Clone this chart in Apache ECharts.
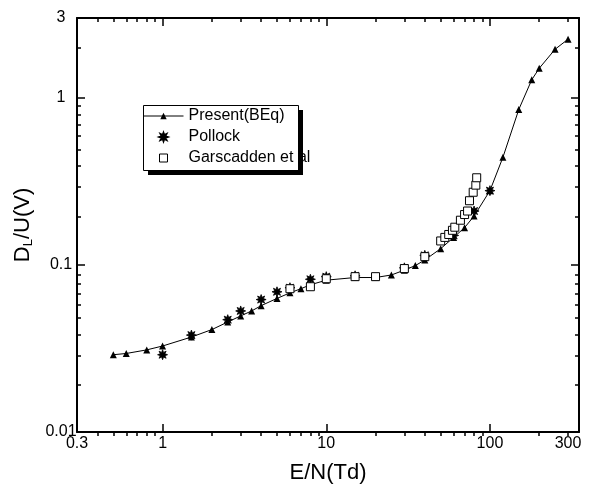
<!DOCTYPE html>
<html>
<head>
<meta charset="utf-8">
<script src="https://cdn.jsdelivr.net/npm/echarts@6/dist/echarts.min.js"></script>
<style>
  html, body { margin: 0; padding: 0; background: #fff; }
  #chart { width: 595px; height: 489px; }
</style>
</head>
<body>
<div id="chart"></div>
<script>
  // E/N (Td) and D_L/U (V)
  const presentEN = [0.5, 0.6, 0.8, 1, 1.5, 2, 2.5, 3, 3.5, 4, 5, 6, 7, 8, 10, 15, 20, 25, 30, 35, 40, 50, 60, 70, 80, 100, 120, 150, 180, 200, 250, 300];
  const presentDL = [0.029, 0.0295, 0.031, 0.0327, 0.037, 0.041, 0.0455, 0.0495, 0.053, 0.057, 0.063, 0.068, 0.072, 0.076, 0.081, 0.084, 0.084, 0.087, 0.093, 0.099, 0.107, 0.125, 0.146, 0.167, 0.196, 0.278, 0.44, 0.85, 1.28, 1.5, 1.95, 2.24];

  const pollockEN = [1, 1.5, 2.5, 3, 4, 5, 6, 8, 10, 15, 30, 40, 60, 80, 100];
  const pollockDL = [0.029, 0.038, 0.047, 0.053, 0.062, 0.069, 0.073, 0.082, 0.085, 0.086, 0.096, 0.114, 0.15, 0.21, 0.278];

  const garsEN = [6, 8, 10, 15, 20, 30, 40, 50, 53, 56, 59, 61, 66, 70, 73, 75, 79, 82, 83];
  const garsDL = [0.072, 0.074, 0.0826, 0.085, 0.085, 0.095, 0.112, 0.139, 0.146, 0.152, 0.161, 0.168, 0.185, 0.2, 0.21, 0.242, 0.272, 0.3, 0.332];

  // ticks and labels
  const xLabels = [0.3, 1, 10, 100, 300];
  const xMajor = [1, 10, 100];
  const xMinor = [0.4, 0.5, 0.6, 0.7, 0.8, 0.9, 2, 3, 4, 5, 6, 7, 8, 9, 20, 30, 40, 50, 60, 70, 80, 90, 200, 300];
  const yLabels = [0.01, 0.1, 1, 3];
  const yMajor = [0.1, 1];
  const yMinor = [0.02, 0.03, 0.04, 0.05, 0.06, 0.07, 0.08, 0.09, 0.2, 0.3, 0.4, 0.5, 0.6, 0.7, 0.8, 0.9, 2];

  const X_MIN = 0.3, X_MAX = 350, Y_MIN = 0.01, Y_MAX = 3;
  const FONT = 'Liberation Sans, Arial, sans-serif';

  const zip = (a, b) => a.map((v, i) => [v, b[i]]);
  const fmt = v => String(+(+v).toPrecision(2));

  const myChart = echarts.init(document.getElementById('chart'));

  // one axis side; labels only on the main (grid 0) bottom/left axes
  function makeAxis(kind, grid, pos, ticks, len, withLine, labels) {
    const isX = kind === 'x';
    return {
      type: 'log',
      logBase: 10,
      gridIndex: grid,
      position: pos,
      min: isX ? X_MIN : Y_MIN,
      max: isX ? X_MAX : Y_MAX,
      axisLine: { show: withLine, onZero: false, lineStyle: { color: '#000', width: 2 } },
      axisTick: { show: true, inside: true, length: len, customValues: ticks, lineStyle: { color: '#000', width: 1.5 } },
      minorTick: { show: false },
      splitLine: { show: false },
      axisLabel: labels ? {
        show: true,
        customValues: labels,
        formatter: fmt,
        color: '#000',
        fontSize: 16,
        fontFamily: FONT,
        margin: isX ? 4 : 16,
        align: 'center'
      } : { show: false }
    };
  }

  const xAxes = [
    makeAxis('x', 0, 'bottom', xMajor, 8, true, xLabels),
    makeAxis('x', 0, 'top', xMajor, 8, true, null),
    makeAxis('x', 1, 'bottom', xMinor, 4, false, null),
    makeAxis('x', 1, 'top', xMinor, 4, false, null)
  ];
  Object.assign(xAxes[0], {
    name: 'E/N(Td)',
    nameLocation: 'middle',
    nameGap: 30,
    nameTextStyle: { color: '#000', fontSize: 22, fontFamily: FONT }
  });

  const yAxes = [
    makeAxis('y', 0, 'left', yMajor, 8, true, yLabels),
    makeAxis('y', 0, 'right', yMajor, 8, true, null),
    makeAxis('y', 1, 'left', yMinor, 4, false, null),
    makeAxis('y', 1, 'right', yMinor, 4, false, null)
  ];
  Object.assign(yAxes[0], {
    name: '{d|D}{s|L}{d|/U(V)}',
    nameLocation: 'middle',
    nameGap: 42,
    nameTextStyle: {
      color: '#000',
      fontFamily: FONT,
      rich: {
        d: { fontSize: 22, fontFamily: FONT, color: '#000' },
        s: { fontSize: 13, fontFamily: FONT, color: '#000', verticalAlign: 'bottom', padding: [10, 0, 0, 0] }
      }
    }
  });

  // bold eight-armed asterisk
  const starPath = 'path://M10 0L11.9 5.4L17.07 2.93L14.6 8.1L20 10L14.6 11.9L17.07 17.07L11.9 14.6L10 20L8.1 14.6L2.93 17.07L5.4 11.9L0 10L5.4 8.1L2.93 2.93L8.1 5.4Z';
  const squarePath = 'path://M0 0H10V10H0Z';

  const gridRect = { left: 77, right: 16, top: 18, bottom: 53 };

  myChart.setOption({
    animation: false,
    backgroundColor: '#fff',
    textStyle: { fontFamily: FONT },
    grid: [Object.assign({}, gridRect), Object.assign({}, gridRect)],
    xAxis: xAxes,
    yAxis: yAxes,
    legend: {
      orient: 'vertical',
      left: 143,
      top: 108,
      padding: 0,
      itemGap: 5,
      itemWidth: 40,
      itemHeight: 8,
      symbolKeepAspect: true,
      z: 5,
      lineStyle: { width: 1 },
      textStyle: { color: '#000', fontSize: 16, fontFamily: FONT },
      data: [
        { name: 'Present(BEq)' },
        { name: 'Pollock' },
        { name: 'Garscadden et al', icon: squarePath, itemStyle: { color: '#fff', borderColor: '#000', borderWidth: 1 } }
      ]
    },
    graphic: [
      // legend frame
      { type: 'rect', left: 143, top: 105, z: 1, shape: { width: 155, height: 65 },
        style: { fill: '#fff', stroke: '#000', lineWidth: 1 } },
      // hard drop shadow
      { type: 'rect', left: 298, top: 110, z: 10, shape: { width: 5, height: 65 }, style: { fill: '#000' } },
      { type: 'rect', left: 148, top: 170, z: 10, shape: { width: 155, height: 5 }, style: { fill: '#000' } }
    ],
    series: [
      {
        name: 'Present(BEq)',
        type: 'line',
        xAxisIndex: 0,
        yAxisIndex: 0,
        symbol: 'triangle',
        symbolSize: 7,
        itemStyle: { color: '#000', opacity: 1 },
        lineStyle: { color: '#000', width: 1 },
        z: 2,
        data: zip(presentEN, presentDL)
      },
      {
        name: 'Pollock',
        type: 'scatter',
        xAxisIndex: 0,
        yAxisIndex: 0,
        symbol: starPath,
        symbolSize: 10,
        symbolKeepAspect: true,
        itemStyle: { color: '#000', borderColor: '#000', borderWidth: 0.8, opacity: 1 },
        z: 3,
        data: zip(pollockEN, pollockDL)
      },
      {
        name: 'Garscadden et al',
        type: 'scatter',
        xAxisIndex: 0,
        yAxisIndex: 0,
        symbol: 'rect',
        symbolSize: 8,
        itemStyle: { color: '#fff', borderColor: '#000', borderWidth: 1, opacity: 1 },
        z: 4,
        data: zip(garsEN, garsDL)
      }
    ]
  });

  window.addEventListener('resize', () => {
    myChart && myChart.resize();
  });
</script>
</body>
</html>
